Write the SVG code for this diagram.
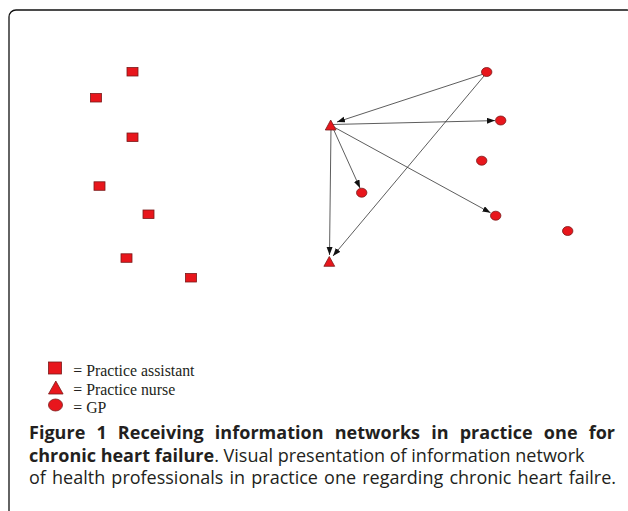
<svg xmlns="http://www.w3.org/2000/svg" width="628" height="511" viewBox="0 0 628 511">
<style>
.pa{fill:#e8161c;stroke:#7a1a1a;stroke-width:0.8}
.edge{stroke:#333;stroke-width:0.8;fill:none;marker-end:url(#ah)}
.leg{font-family:"Liberation Serif",serif;font-size:15.8px;fill:#231f20}
.cap{font-family:"Open Sans","Liberation Sans",sans-serif;font-size:18px;fill:#231f20}
.b{font-weight:bold}
</style>
<defs>
<marker id="ah" markerUnits="userSpaceOnUse" markerWidth="9" markerHeight="7" refX="8" refY="3" orient="auto">
<path d="M0,0 L8,3 L0,6 z" fill="#111"/>
</marker>
</defs>
<rect x="9" y="10" width="625" height="515" rx="7" fill="#fff" stroke="#111" stroke-width="1.3"/>

<g id="connectors">
<line class="edge" x1="482" y1="74.5" x2="337" y2="122"/>
<line class="edge" x1="332" y1="124.5" x2="495" y2="120.6"/>
<line class="edge" x1="332" y1="126" x2="360" y2="188"/>
<line class="edge" x1="332" y1="126" x2="490.5" y2="212.8"/>
<line class="edge" x1="331" y1="127" x2="329.5" y2="255"/>
<line class="edge" x1="484" y1="76" x2="333" y2="256"/>
</g>

<g id="pa1"><rect class="pa" x="127" y="67.5" width="11" height="8.5"/></g>
<g id="pa2"><rect class="pa" x="90.5" y="93.5" width="11" height="8.5"/></g>
<g id="pa3"><rect class="pa" x="127" y="133" width="11" height="8.5"/></g>
<g id="pa4"><rect class="pa" x="94" y="181.8" width="11" height="8.5"/></g>
<g id="pa5"><rect class="pa" x="143" y="210" width="11" height="8.5"/></g>
<g id="pa6"><rect class="pa" x="121" y="253.8" width="11" height="8.5"/></g>
<g id="pa7"><rect class="pa" x="185.5" y="273.5" width="11" height="8.5"/></g>

<g id="pn1"><polygon class="pa" points="330.7,120 325.3,130 336.1,130"/></g>
<g id="pn2"><polygon class="pa" points="329.3,256.5 323.9,266.3 334.7,266.3"/></g>

<g id="gp1"><ellipse class="pa" cx="486.7" cy="72" rx="5.2" ry="4.5"/></g>
<g id="gp2"><ellipse class="pa" cx="500.7" cy="120.5" rx="5.2" ry="4.5"/></g>
<g id="gp3"><ellipse class="pa" cx="481.7" cy="160.7" rx="5.2" ry="4.5"/></g>
<g id="gp4"><ellipse class="pa" cx="361.7" cy="192.7" rx="5.2" ry="4.5"/></g>
<g id="gp5"><ellipse class="pa" cx="495.7" cy="215.7" rx="5.2" ry="4.5"/></g>
<g id="gp6"><ellipse class="pa" cx="567.7" cy="231" rx="5.2" ry="4.5"/></g>

<g id="legend">
<rect class="pa" x="48.5" y="362" width="13" height="12"/>
<polygon class="pa" points="55.8,381 48.5,394 63.1,394"/>
<ellipse class="pa" cx="55.5" cy="405" rx="7" ry="6"/>
<text class="leg" x="73.3" y="376">= Practice assistant</text>
<text class="leg" x="73.3" y="394.5">= Practice nurse</text>
<text class="leg" x="73.3" y="413">= GP</text>
</g>

<g id="caption">
<text class="cap b" x="29" y="438.5" word-spacing="6.4" textLength="586" lengthAdjust="spacing">Figure 1 Receiving information networks in practice one for</text>
<text class="cap" x="29" y="461.5"><tspan class="b">chronic heart failure</tspan>. Visual presentation of information network</text>
<text class="cap" x="29" y="484" word-spacing="1.5" textLength="587" lengthAdjust="spacing">of health professionals in practice one regarding chronic heart failre.</text>
</g>
</svg>
